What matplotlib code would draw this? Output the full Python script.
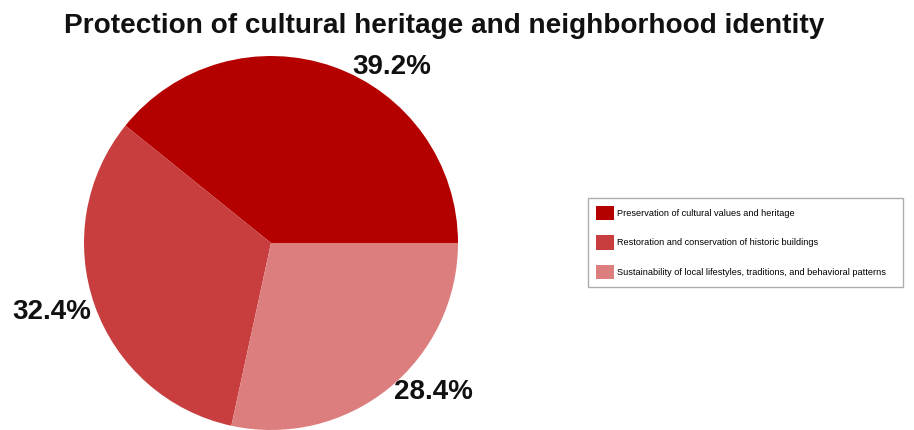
import numpy as np
import matplotlib.pyplot as plt
from matplotlib.patches import Patch

# Survey shares for the heritage / identity theme
categories = [
    "Preservation of cultural values and heritage",
    "Restoration and conservation of historic buildings",
    "Sustainability of local lifestyles, traditions, and behavioral patterns",
]
shares = [39.2, 32.4, 28.4]
colors = ["#B50000", "#C83E3E", "#DC7E7E"]
# label placement around the pie: (angle in degrees, distance as fraction of radius)
label_spots = [(55.5, 1.14), (197.5, 1.23), (-42.5, 1.18)]

plt.rcParams["font.family"] = ["Liberation Sans", "DejaVu Sans"]

fig = plt.figure(figsize=(9.14, 4.30), dpi=100)
ax = fig.add_axes([0, 0, 1, 1])

cx, cy, r = 271, 187, 187
wedges, _ = ax.pie(shares, colors=colors, startangle=0, counterclock=True,
                   center=(cx, cy), radius=r, frame=True,
                   wedgeprops=dict(linewidth=0))
ax.set_xlim(0, 914)
ax.set_ylim(0, 430)
ax.set_aspect("equal")
ax.axis("off")

for val, (ang, dist) in zip(shares, label_spots):
    t = np.deg2rad(ang)
    ax.text(cx + dist * r * np.cos(t), cy + dist * r * np.sin(t), f"{val}%",
            ha="center", va="center", fontsize=20, fontweight="bold",
            color="#111111")

fig.text(0.486, 0.94, "Protection of cultural heritage and neighborhood identity",
         ha="center", va="center", fontsize=20.2, fontweight="bold", color="#111111")

handles = [Patch(facecolor=c, edgecolor="none") for c in colors]
leg = ax.legend(handles, categories, loc="upper left", mode="expand",
                bbox_to_anchor=(588 / 914, 1 - 198 / 430, 315 / 914, 0), fontsize=6.6,
                frameon=True, fancybox=False, edgecolor="#999999",
                handlelength=2.0, handleheight=2.0, labelspacing=1.68,
                handletextpad=0.3, borderpad=0.85, borderaxespad=0)
leg.get_frame().set_linewidth(1.0)

fig.savefig("out.png", dpi=100, facecolor="white")
